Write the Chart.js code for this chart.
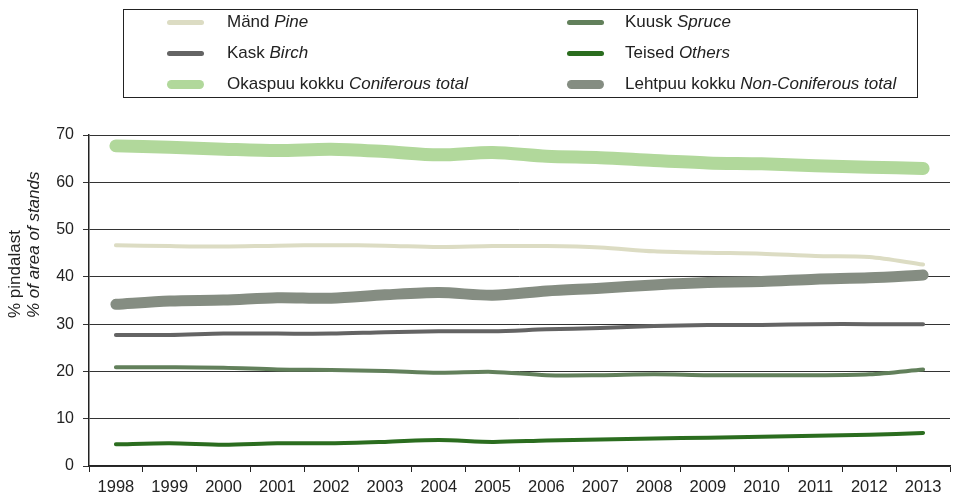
<!DOCTYPE html>
<html>
<head>
<meta charset="utf-8">
<script src="https://cdn.jsdelivr.net/npm/chart.js@4.4.1/dist/chart.umd.min.js"></script>
<style>
  html, body { margin: 0; padding: 0; background: #fff; }
  #wrap { position: relative; width: 953px; height: 495px; }
  #legend {
    position: absolute; left: 123px; top: 9px; width: 795px; height: 89px;
    border: 1px solid #222; box-sizing: border-box;
    font-family: "Liberation Sans", Arial, sans-serif; font-size: 17px; color: #222;
  }
  .item { position: absolute; height: 20px; display: flex; align-items: center; }
  .swatch { display: inline-block; width: 37px; border-radius: 6px; }
  .label { position: absolute; white-space: nowrap; line-height: 20px; }
  canvas { position: absolute; left: 0; top: 0; }
</style>
</head>
<body>
<div id="wrap">
  <canvas id="chart" width="953" height="495"></canvas>
  <div id="legend"></div>
</div>
<script>
const years = ['1998','1999','2000','2001','2002','2003','2004','2005','2006','2007','2008','2009','2010','2011','2012','2013'];

const pine       = [46.7, 46.5, 46.4, 46.6, 46.7, 46.6, 46.3, 46.5, 46.5, 46.2, 45.4, 45.1, 44.9, 44.4, 44.2, 42.6];
const spruce     = [20.9, 20.9, 20.8, 20.4, 20.3, 20.1, 19.7, 19.9, 19.2, 19.2, 19.4, 19.2, 19.2, 19.2, 19.4, 20.4];
const birch      = [27.7, 27.7, 28.0, 28.0, 28.0, 28.3, 28.5, 28.5, 28.9, 29.2, 29.6, 29.8, 29.8, 30.0, 30.0, 30.0];
const others     = [4.6, 4.8, 4.5, 4.8, 4.8, 5.1, 5.5, 5.1, 5.4, 5.6, 5.8, 6.0, 6.2, 6.4, 6.6, 7.0];
const coniferous = [67.7, 67.4, 67.0, 66.7, 67.0, 66.5, 65.8, 66.3, 65.5, 65.2, 64.6, 64.1, 63.9, 63.5, 63.2, 62.9];
const nonConif   = [34.2, 34.9, 35.1, 35.6, 35.5, 36.2, 36.7, 36.1, 37.0, 37.6, 38.3, 38.8, 39.0, 39.5, 39.8, 40.4];

// [estonian, english, data, colour, width, legend column, legend row]
const series = [
  ['Mänd', 'Pine', pine, '#dcdcc3', 4, 0, 0],
  ['Kuusk', 'Spruce', spruce, '#62805b', 4, 1, 0],
  ['Kask', 'Birch', birch, '#646464', 4, 0, 1],
  ['Teised', 'Others', others, '#2b6d1f', 4, 1, 1],
  ['Okaspuu kokku', 'Coniferous total', coniferous, '#b1d89b', 13, 0, 2],
  ['Lehtpuu kokku', 'Non-Coniferous total', nonConif, '#858d82', 11, 1, 2],
];

const FONT = '"Liberation Sans", Arial, sans-serif';

// legend box with mixed upright / italic labels
const legend = document.getElementById('legend');
series.forEach(([et, en, , color, w, col, row]) => {
  const top = 2 + row * 31;
  const sw = document.createElement('div');
  sw.className = 'item';
  sw.style.left = (col ? 443 : 43) + 'px';
  sw.style.top = top + 'px';
  sw.innerHTML = `<span class="swatch" style="height:${w > 6 ? 9 : 5}px;background:${color}"></span>`;
  legend.appendChild(sw);
  const lb = document.createElement('div');
  lb.className = 'label';
  lb.style.left = (col ? 501 : 103) + 'px';
  lb.style.top = top + 'px';
  lb.innerHTML = `${et} <i>${en}</i>`;
  legend.appendChild(lb);
});

// two-line y title, second line italic
const yTitle = {
  id: 'yTitle',
  afterDraw(chart) {
    const { ctx } = chart;
    ctx.save();
    ctx.fillStyle = '#222';
    ctx.textAlign = 'left';
    ctx.textBaseline = 'middle';
    ctx.translate(15, 318);
    ctx.rotate(-Math.PI / 2);
    ctx.font = '17px ' + FONT;
    ctx.fillText('% pindalast', 0, 0);
    ctx.font = 'italic 17px ' + FONT;
    ctx.fillText('% of area of stands', 0, 19);
    ctx.restore();
  },
};

new Chart(document.getElementById('chart'), {
  type: 'line',
  data: {
    labels: years,
    datasets: series.map(([et, en, data, color, w]) => ({
      label: et + ' ' + en,
      data,
      borderColor: color,
      backgroundColor: color,
      borderWidth: w,
      borderCapStyle: 'round',
      borderJoinStyle: 'round',
      pointRadius: 0,
      tension: 0.3,
      fill: false,
    })),
  },
  options: {
    responsive: false,
    animation: false,
    layout: { padding: { top: 135, right: 3, left: 0, bottom: 0 } },
    plugins: { legend: { display: false }, tooltip: { enabled: false } },
    scales: {
      x: {
        offset: true,
        grid: { offset: true, drawOnChartArea: false, drawTicks: true, tickLength: 6, color: '#222' },
        border: { color: '#222', width: 1.5 },
        ticks: { color: '#222', font: { family: FONT, size: 16.5 }, padding: 6, maxRotation: 0, autoSkip: false },
        afterFit(scale) { scale.height = 29; },
      },
      y: {
        min: 0,
        max: 70,
        ticks: { stepSize: 10, color: '#222', font: { family: FONT, size: 16 }, padding: 9 },
        grid: { color: '#333', lineWidth: 1, tickLength: 6 },
        border: { color: '#222', width: 1.5 },
        afterFit(scale) { scale.width = 89; },
      },
    },
  },
  plugins: [yTitle],
});
</script>
</body>
</html>
